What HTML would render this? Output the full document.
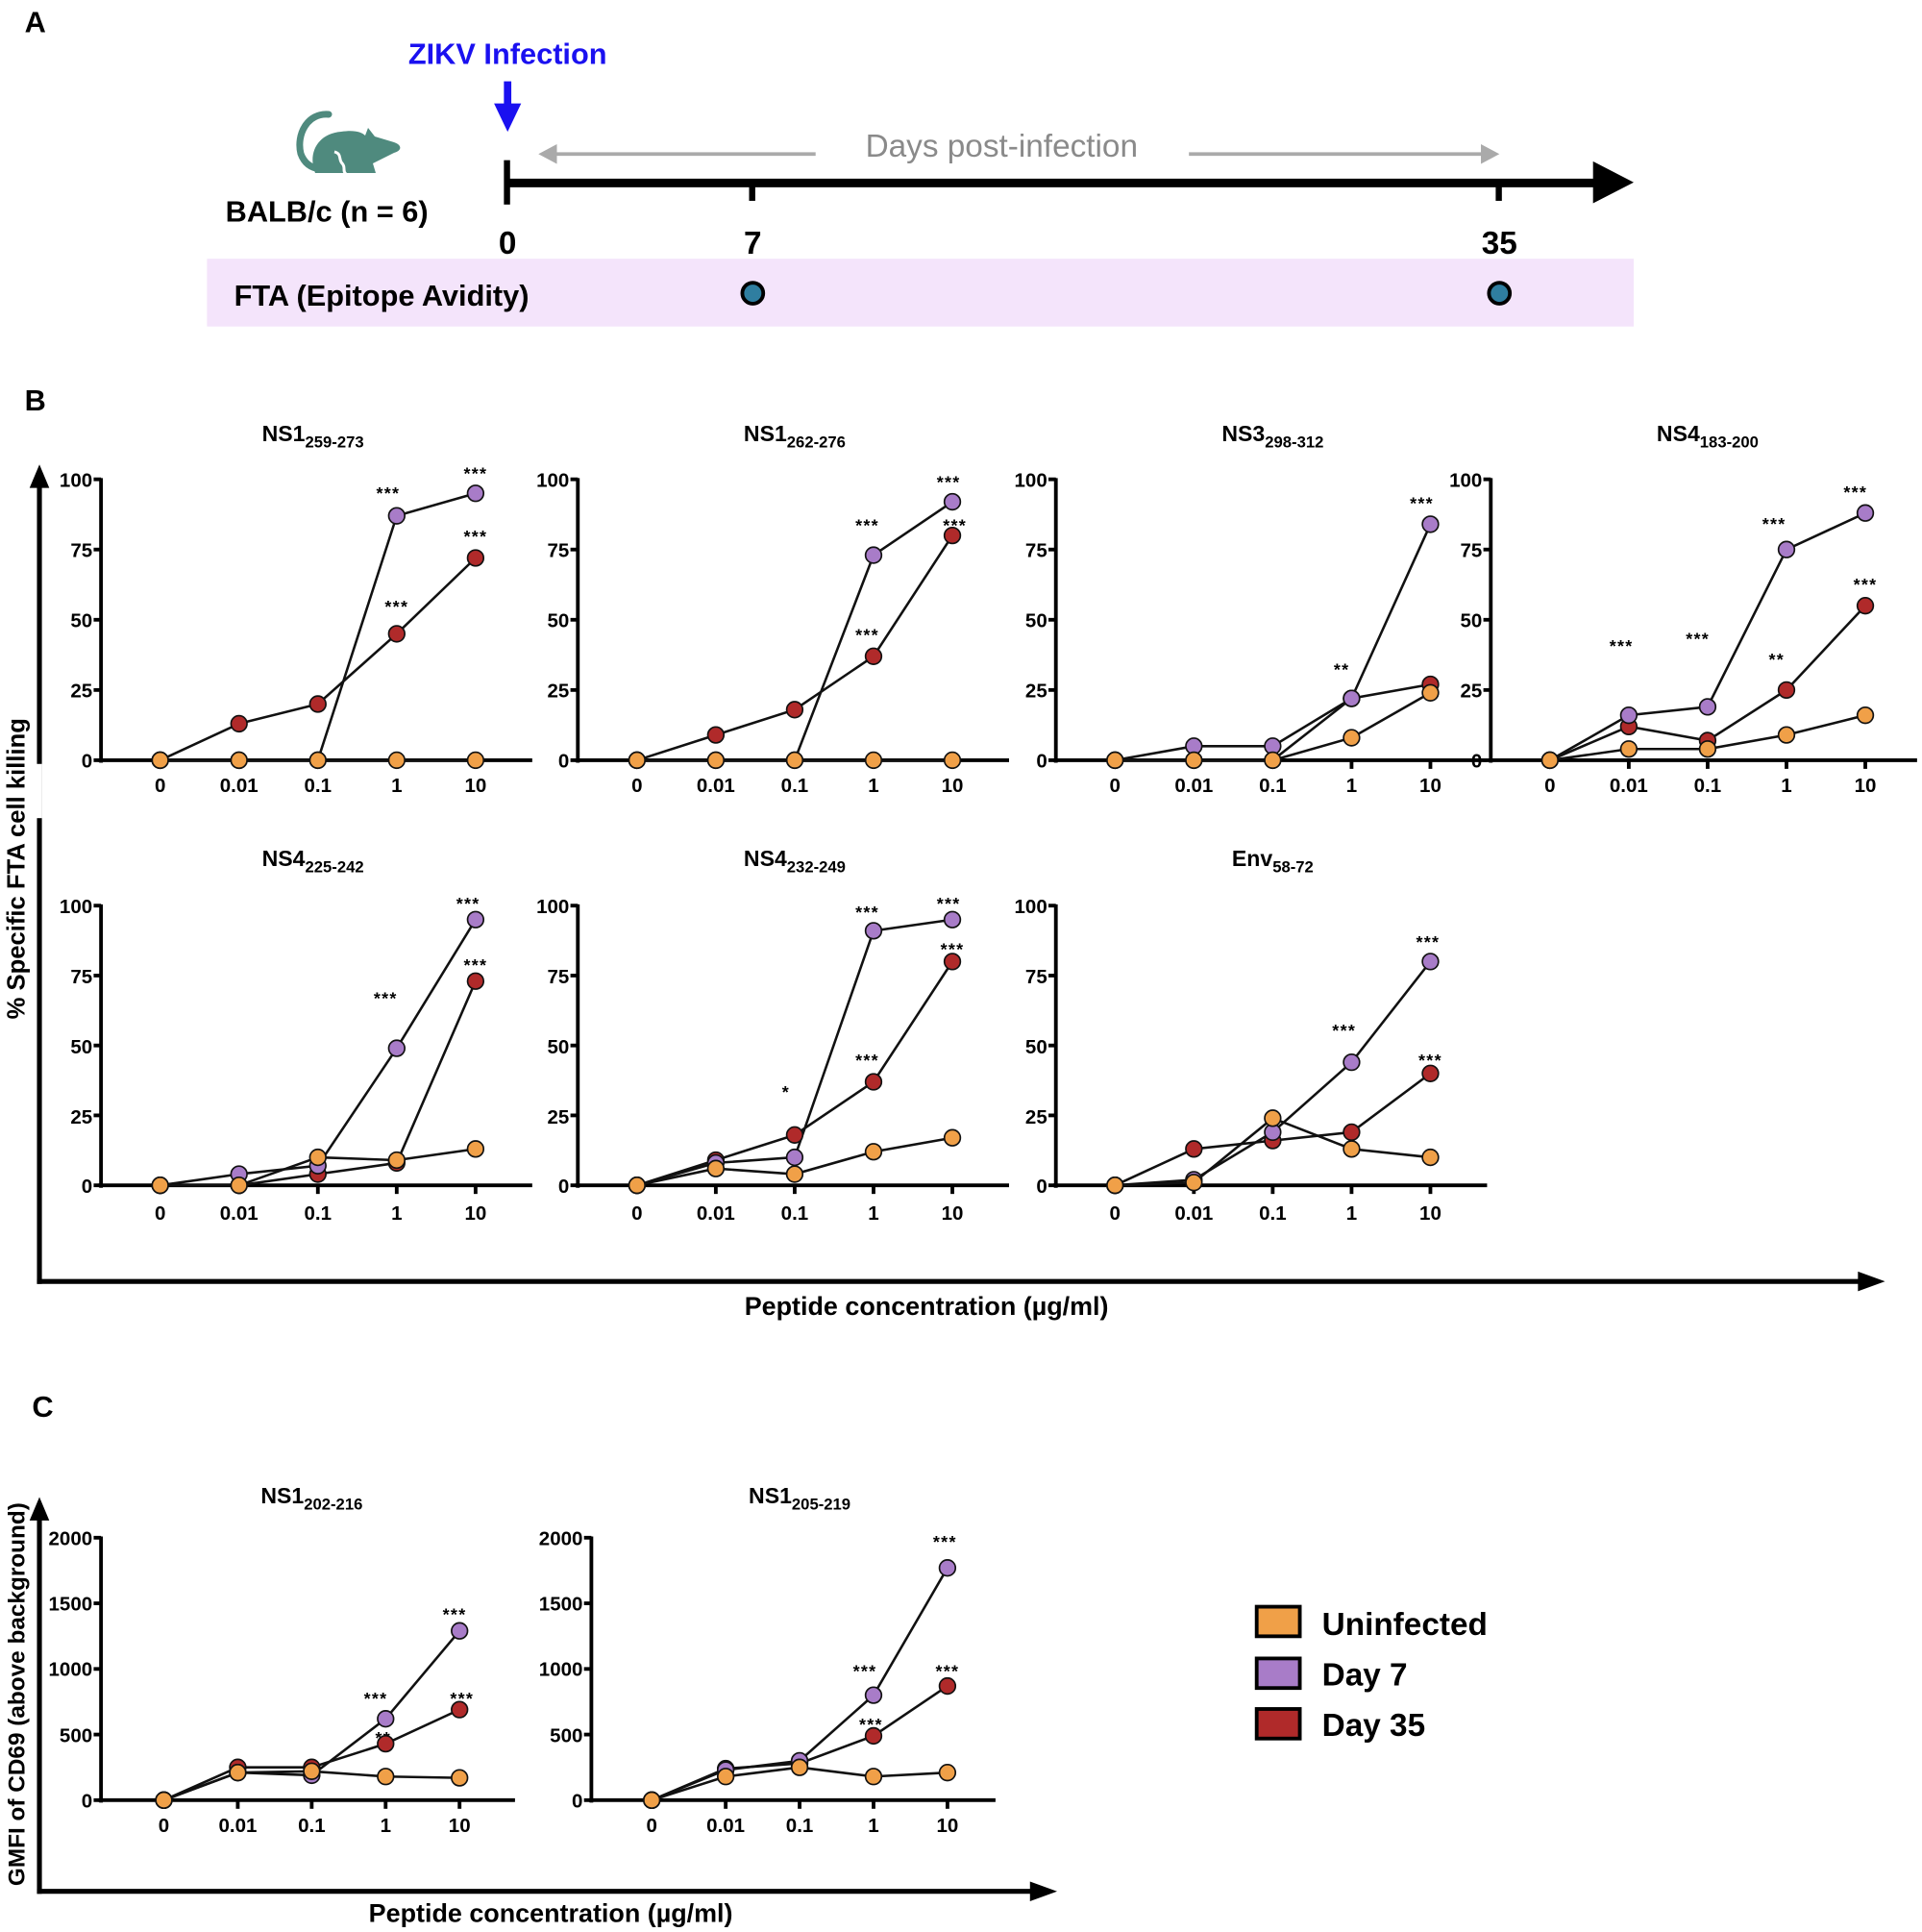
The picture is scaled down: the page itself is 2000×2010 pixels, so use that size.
<!DOCTYPE html>
<html><head><meta charset="utf-8"><style>
html,body{margin:0;padding:0;background:#fff}
svg{display:block}
text{font-family:"Liberation Sans",Arial,sans-serif;font-weight:bold;fill:#000}
.t{font-size:16px}
.ti{font-size:18px}
.st{font-size:14px;letter-spacing:1px}
</style></head><body>
<svg id="s" width="2000" height="2010" viewBox="0 0 1560 1568" preserveAspectRatio="none" xmlns="http://www.w3.org/2000/svg">
<rect width="1560" height="1568" fill="#fff"/>
<!-- Panel A -->
<text x="20" y="26" font-size="24">A</text>
<text x="412" y="52" font-size="24" text-anchor="middle" style="fill:#1a10f0">ZIKV Infection</text>
<rect x="409" y="66" width="6" height="20" fill="#1a10f0"/>
<polygon points="401,84 423,84 412,107" fill="#1a10f0"/>
<g transform="scale(0.78)">
<path d="M342,119 C320,117 308,140 313,160 C317,171 325,175 333,176" fill="none" stroke="#4f8a7e" stroke-width="7" stroke-linecap="round"/>
<path d="M328,180 C320,160 330,139 355,137 C368,135 376,137 380,141 L383,133 L390,142 L410,148 C419,151 418,157 410,159 L388,170 L391,180 Z" fill="#4f8a7e"/>
<path d="M348,158 C356,160 352,166 356,170 C360,174 356,178 360,181" fill="none" stroke="#fff" stroke-width="3"/>
</g>
<text x="183" y="180" font-size="24">BALB/c (n = 6)</text>
<rect x="409" y="130" width="5" height="36" fill="#000"/>
<rect x="412" y="145" width="885" height="7" fill="#000"/>
<polygon points="1293,131 1326,148 1293,165" fill="#000"/>
<rect x="608" y="148" width="5" height="15" fill="#000"/>
<rect x="1214" y="148" width="5" height="15" fill="#000"/>
<text x="412" y="206" font-size="26" text-anchor="middle">0</text>
<text x="611" y="206" font-size="26" text-anchor="middle">7</text>
<text x="1217" y="206" font-size="26" text-anchor="middle">35</text>
<line x1="662" y1="125" x2="450" y2="125" stroke="#aaa" stroke-width="3"/>
<polygon points="437,125 452,117 452,133" fill="#aaa"/>
<line x1="965" y1="125" x2="1204" y2="125" stroke="#aaa" stroke-width="3"/>
<polygon points="1217,125 1202,117 1202,133" fill="#aaa"/>
<text x="813" y="127" font-size="26" text-anchor="middle" style="fill:#8a8a8a;font-weight:normal">Days post-infection</text>
<rect x="168" y="210" width="1158" height="55" fill="#f4e4fb"/>
<text x="190" y="248" font-size="24">FTA (Epitope Avidity)</text>
<circle cx="611" cy="238" r="8.5" fill="#2f7ea0" stroke="#000" stroke-width="3"/>
<circle cx="1217" cy="238" r="8.5" fill="#2f7ea0" stroke="#000" stroke-width="3"/>

<!-- Panel B -->
<text x="20" y="333" font-size="24">B</text>
<line x1="32" y1="392" x2="32" y2="1042" stroke="#000" stroke-width="4"/>
<polygon points="24,396 40,396 32,377" fill="#000"/>
<line x1="30" y1="1040" x2="1512" y2="1040" stroke="#000" stroke-width="4"/>
<polygon points="1508,1032 1508,1048 1530,1040" fill="#000"/>
<rect x="4" y="620" width="30" height="44" fill="#fff"/>
<text transform="translate(20,705) rotate(-90)" font-size="20" text-anchor="middle">% Specific FTA cell killing</text>
<text x="752" y="1067" font-size="21" text-anchor="middle">Peptide concentration (µg/ml)</text>

<text x="254" y="358" class="ti" text-anchor="middle">NS1<tspan font-size="13" dy="5">259-273</tspan></text>
<text x="645" y="358" class="ti" text-anchor="middle">NS1<tspan font-size="13" dy="5">262-276</tspan></text>
<text x="1033" y="358" class="ti" text-anchor="middle">NS3<tspan font-size="13" dy="5">298-312</tspan></text>
<text x="1386" y="358" class="ti" text-anchor="middle">NS4<tspan font-size="13" dy="5">183-200</tspan></text>
<text x="254" y="703" class="ti" text-anchor="middle">NS4<tspan font-size="13" dy="5">225-242</tspan></text>
<text x="645" y="703" class="ti" text-anchor="middle">NS4<tspan font-size="13" dy="5">232-249</tspan></text>
<text x="1033" y="703" class="ti" text-anchor="middle">Env<tspan font-size="13" dy="5">58-72</tspan></text>

<g class="t" text-anchor="end">
<text x="75" y="395">100</text><text x="75" y="452">75</text><text x="75" y="509">50</text><text x="75" y="566">25</text><text x="75" y="623">0</text>
<text x="462" y="395">100</text><text x="462" y="452">75</text><text x="462" y="509">50</text><text x="462" y="566">25</text><text x="462" y="623">0</text>
<text x="850" y="395">100</text><text x="850" y="452">75</text><text x="850" y="509">50</text><text x="850" y="566">25</text><text x="850" y="623">0</text>
<text x="1203" y="395">100</text><text x="1203" y="452">75</text><text x="1203" y="509">50</text><text x="1203" y="566">25</text><text x="1203" y="623">0</text>
<text x="75" y="741">100</text><text x="75" y="798">75</text><text x="75" y="855">50</text><text x="75" y="912">25</text><text x="75" y="968">0</text>
<text x="462" y="741">100</text><text x="462" y="798">75</text><text x="462" y="855">50</text><text x="462" y="912">25</text><text x="462" y="968">0</text>
<text x="850" y="741">100</text><text x="850" y="798">75</text><text x="850" y="855">50</text><text x="850" y="912">25</text><text x="850" y="968">0</text>
</g>
<g class="t" text-anchor="middle">
<text x="130" y="643">0</text><text x="194" y="643">0.01</text><text x="258" y="643">0.1</text><text x="322" y="643">1</text><text x="386" y="643">10</text>
<text x="517" y="643">0</text><text x="581" y="643">0.01</text><text x="645" y="643">0.1</text><text x="709" y="643">1</text><text x="773" y="643">10</text>
<text x="905" y="643">0</text><text x="969" y="643">0.01</text><text x="1033" y="643">0.1</text><text x="1097" y="643">1</text><text x="1161" y="643">10</text>
<text x="1258" y="643">0</text><text x="1322" y="643">0.01</text><text x="1386" y="643">0.1</text><text x="1450" y="643">1</text><text x="1514" y="643">10</text>
<text x="130" y="990">0</text><text x="194" y="990">0.01</text><text x="258" y="990">0.1</text><text x="322" y="990">1</text><text x="386" y="990">10</text>
<text x="517" y="990">0</text><text x="581" y="990">0.01</text><text x="645" y="990">0.1</text><text x="709" y="990">1</text><text x="773" y="990">10</text>
<text x="905" y="990">0</text><text x="969" y="990">0.01</text><text x="1033" y="990">0.1</text><text x="1097" y="990">1</text><text x="1161" y="990">10</text>
</g>
<g class="st" text-anchor="middle">
<text x="315" y="405">***</text><text x="386" y="389">***</text><text x="386" y="440">***</text><text x="322" y="497">***</text>
<text x="704" y="431">***</text><text x="770" y="396">***</text><text x="775" y="431">***</text><text x="704" y="520">***</text>
<text x="1089" y="548">**</text><text x="1154" y="413">***</text>
<text x="1316" y="529">***</text><text x="1378" y="523">***</text><text x="1440" y="430">***</text><text x="1442" y="540">**</text><text x="1506" y="404">***</text><text x="1514" y="479">***</text>
<text x="313" y="815">***</text><text x="380" y="738">***</text><text x="386" y="788">***</text>
<text x="638" y="891">*</text><text x="704" y="745">***</text><text x="704" y="865">***</text><text x="770" y="738">***</text><text x="773" y="775">***</text>
<text x="1091" y="841">***</text><text x="1159" y="769">***</text><text x="1161" y="865">***</text>
<text x="305" y="1383">***</text><text x="311" y="1415">**</text><text x="369" y="1315">***</text><text x="375" y="1383">***</text>
<text x="702" y="1361">***</text><text x="707" y="1404">***</text><text x="767" y="1256">***</text><text x="769" y="1361">***</text>
</g>

<!-- Panel C -->
<text x="26" y="1150" font-size="24">C</text>
<line x1="32" y1="1230" x2="32" y2="1537" stroke="#000" stroke-width="4"/>
<polygon points="24,1234 40,1234 32,1215" fill="#000"/>
<line x1="30" y1="1535" x2="840" y2="1535" stroke="#000" stroke-width="4"/>
<polygon points="836,1527 836,1543 858,1535" fill="#000"/>
<text transform="translate(20,1375) rotate(-90)" font-size="19" text-anchor="middle">GMFI of CD69 (above background)</text>
<text x="447" y="1560" font-size="21" text-anchor="middle">Peptide concentration (µg/ml)</text>
<text x="253" y="1220" class="ti" text-anchor="middle">NS1<tspan font-size="13" dy="5">202-216</tspan></text>
<text x="649" y="1220" class="ti" text-anchor="middle">NS1<tspan font-size="13" dy="5">205-219</tspan></text>
<g class="t" text-anchor="end">
<text x="75" y="1254">2000</text><text x="75" y="1307">1500</text><text x="75" y="1360">1000</text><text x="75" y="1414">500</text><text x="75" y="1467">0</text>
<text x="473" y="1254">2000</text><text x="473" y="1307">1500</text><text x="473" y="1360">1000</text><text x="473" y="1414">500</text><text x="473" y="1467">0</text>
</g>
<g class="t" text-anchor="middle">
<text x="133" y="1487">0</text><text x="193" y="1487">0.01</text><text x="253" y="1487">0.1</text><text x="313" y="1487">1</text><text x="373" y="1487">10</text>
<text x="529" y="1487">0</text><text x="589" y="1487">0.01</text><text x="649" y="1487">0.1</text><text x="709" y="1487">1</text><text x="769" y="1487">10</text>
</g>
<rect x="1020" y="1304" width="35" height="24" fill="#f0a048" stroke="#000" stroke-width="3"/>
<rect x="1020" y="1346" width="35" height="24" fill="#a87cc8" stroke="#000" stroke-width="3"/>
<rect x="1020" y="1387" width="35" height="24" fill="#b02a2a" stroke="#000" stroke-width="3"/>
<text x="1073" y="1327" font-size="26">Uninfected</text>
<text x="1073" y="1368" font-size="26">Day 7</text>
<text x="1073" y="1409" font-size="26">Day 35</text>
<g id="dyn"></g>
</svg>
<script>
var g=document.getElementById('dyn'),NS='http://www.w3.org/2000/svg';
function el(t,a){var e=document.createElementNS(NS,t);for(var k in a)e.setAttribute(k,a[k]);g.appendChild(e);return e;}
var O='#f0a048',P='#a87cc8',R='#b02a2a';
function panel(ax,y0,ytop,max,yt,x0,dx,xend,U,D7,D35){
 el('line',{x1:ax,y1:ytop-1,x2:ax,y2:y0+2,stroke:'#000','stroke-width':3});
 el('line',{x1:ax-2,y1:y0,x2:xend,y2:y0,stroke:'#000','stroke-width':3});
 yt.forEach(function(v){var y=y0-(y0-ytop)*v/max;el('line',{x1:ax-6,y1:y,x2:ax,y2:y,stroke:'#000','stroke-width':3});});
 for(var i=0;i<5;i++){var x=x0+dx*i;el('line',{x1:x,y1:y0,x2:x,y2:y0+7,stroke:'#000','stroke-width':3});}
 function Y(v){return y0-(y0-ytop)*v/max;}
 [D35,D7,U].forEach(function(d){var pts=d.map(function(v,i){return (x0+dx*i)+','+Y(v);}).join(' ');
  el('polyline',{points:pts,fill:'none',stroke:'#111','stroke-width':2});});
 [[D35,R],[D7,P],[U,O]].forEach(function(s){s[0].forEach(function(v,i){el('circle',{cx:x0+dx*i,cy:Y(v),r:6.5,fill:s[1],stroke:'#111','stroke-width':1.3});});});
}
var yb=[0,25,50,75,100],yc=[0,500,1000,1500,2000];
panel(82,617,389,100,yb,130,64,432,[0,0,0,0,0],[0,0,0,87,95],[0,13,20,45,72]);
panel(469,617,389,100,yb,517,64,819,[0,0,0,0,0],[0,0,0,73,92],[0,9,18,37,80]);
panel(857,617,389,100,yb,905,64,1207,[0,0,0,8,24],[0,5,5,22,84],[0,0,0,22,27]);
panel(1210,617,389,100,yb,1258,64,1556,[0,4,4,9,16],[0,16,19,75,88],[0,12,7,25,55]);
panel(82,962,735,100,yb,130,64,432,[0,0,10,9,13],[0,4,7,49,95],[0,0,4,8,73]);
panel(469,962,735,100,yb,517,64,819,[0,6,4,12,17],[0,8,10,91,95],[0,9,18,37,80]);
panel(857,962,735,100,yb,905,64,1207,[0,1,24,13,10],[0,2,19,44,80],[0,13,16,19,40]);
panel(82,1461,1248,2000,yc,133,60,418,[0,210,220,180,170],[0,210,190,620,1290],[0,250,250,430,690]);
panel(480,1461,1248,2000,yc,529,60,808,[0,180,250,180,210],[0,230,300,800,1770],[0,240,280,490,870]);
</script>
</body></html>
